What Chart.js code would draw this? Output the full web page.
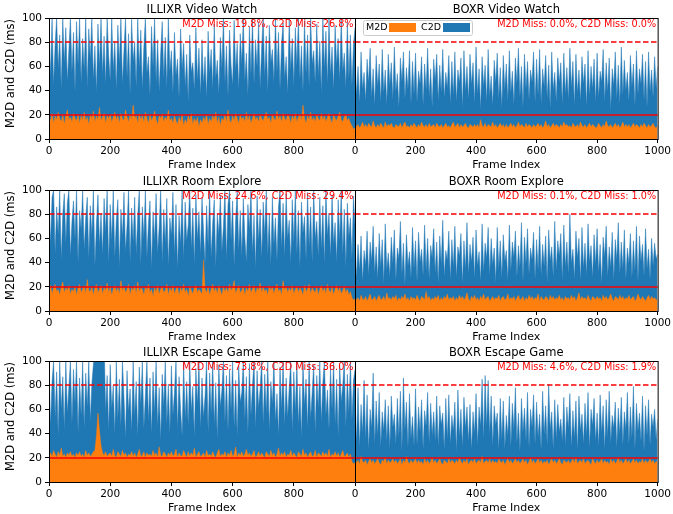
<!DOCTYPE html>
<html>
<head>
<meta charset="utf-8">
<script src="https://cdn.jsdelivr.net/npm/chart.js@4.4.0/dist/chart.umd.min.js"></script>
<style>
  body { margin: 0; background: #fff; width: 673px; height: 514px; overflow: hidden; position: relative; }
  canvas { position: absolute; }
</style>
</head>
<body>
<canvas id="c0" width="357" height="172" style="left:0;top:0"></canvas>
<canvas id="c1" width="338" height="172" style="left:335px;top:0"></canvas>
<canvas id="c2" width="357" height="172" style="left:0;top:172px"></canvas>
<canvas id="c3" width="338" height="172" style="left:335px;top:172px"></canvas>
<canvas id="c4" width="357" height="172" style="left:0;top:343px"></canvas>
<canvas id="c5" width="338" height="172" style="left:335px;top:343px"></canvas>
<script>
// frame index of each sample (one every 5 frames)
var frames = [];
for (var f = 0; f <= 1000; f += 5) frames.push(f);

var M2D_LIMIT = 20;
var C2D_LIMIT = 80;
var xTicks = [0, 200, 400, 600, 800, 1000];
var yTicks = [0, 20, 40, 60, 80, 100];

var illixrVideoC2D = [
 95,52,100,44,78,100,58,86,41,100,63,92,47,74,100,55,88,39,97,61,
 100,46,83,57,100,42,91,66,100,49,77,38,95,60,100,53,85,44,100,69,
 48,100,56,81,40,94,62,100,45,73,100,51,87,37,99,64,80,43,100,58,
 90,41,76,100,54,68,36,93,59,100,47,82,39,71,97,50,84,42,100,56,
 73,38,88,52,66,34,91,57,79,43,70,31,86,55,63,40,92,48,75,36,
 82,45,68,33,89,54,74,41,95,50,65,37,84,58,100,46,77,35,90,61,
 44,98,56,79,40,87,62,100,48,71,36,93,53,100,45,82,59,97,42,76,
 100,51,85,38,94,63,74,47,100,55,88,41,79,96,50,68,37,100,57,83,
 44,92,60,100,49,77,39,98,54,86,43,100,62,73,46,95,52,81,37,100,
 58,89,45,100,53,76,40,94,61,83,48,100,56,71,42,97,50,86,44,78,
 92];
var illixrVideoM2D = [
 18,15,21,13,19,16,22,17,14,20,12,19,24,16,18,14,21,17,15,20,
 13,19,16,22,15,18,12,20,17,23,14,19,16,26,15,18,21,13,19,17,
 20,14,18,22,16,19,13,21,17,15,24,18,14,20,16,28,17,19,13,21,
 16,19,14,22,17,13,20,15,18,23,16,12,19,17,21,14,18,16,24,15,
 17,13,19,15,12,18,14,20,11,16,13,19,15,21,12,17,14,18,10,16,
 13,18,15,20,12,17,14,19,16,22,13,18,11,17,15,20,14,24,16,13,
 19,15,21,17,13,20,16,18,14,22,15,19,13,17,21,16,18,14,20,17,
 15,19,22,16,18,13,20,17,15,23,16,19,14,21,17,15,20,18,13,19,
 16,21,14,18,20,15,28,17,13,19,16,22,15,18,14,20,17,15,21,16,
 19,14,18,21,16,13,20,17,15,19,22,16,14,18,20,15,17,13,11,8,
 9];

var boxrVideoC2D = [
 68,36,60,29,72,41,55,31,66,46,75,34,58,27,69,43,62,30,74,38,
 57,28,70,44,63,32,76,39,54,26,67,47,72,33,59,41,73,29,64,37,
 71,30,56,45,68,27,62,40,75,35,58,26,66,48,70,31,61,38,74,33,
 55,42,69,28,64,36,72,30,57,46,67,25,73,39,60,32,70,44,63,29,
 76,37,58,24,68,43,61,30,74,35,52,27,65,46,71,33,59,25,69,40,
 62,31,73,38,56,28,67,45,75,34,60,26,70,41,64,32,57,47,72,30,
 66,36,74,29,58,43,69,33,61,25,72,40,55,30,67,46,63,28,71,37,
 59,32,75,42,64,27,70,38,57,31,68,45,62,26,73,35,60,41,66,29,
 71,34,56,47,74,30,63,39,67,24,58,44,72,33,61,28,76,36,65,40,
 55,31,69,43,62,27,73,37,58,45,70,32,64,26,72,39,57,34,68,41,
 60];
var boxrVideoM2D = [
 13,10,12,9,11,14,10,12,9,13,11,10,15,11,9,12,10,13,11,9,
 14,10,12,11,13,10,9,12,11,10,13,9,12,14,10,11,9,12,10,13,
 11,9,12,10,14,11,10,12,9,13,10,11,12,9,13,11,10,12,9,11,
 13,10,11,9,12,14,10,11,13,9,12,10,11,13,10,9,12,11,10,12,
 10,12,9,16,11,10,13,9,12,11,10,14,10,12,9,11,13,10,12,9,
 12,9,11,13,10,12,9,11,14,10,12,11,9,13,10,12,11,9,12,10,
 11,13,10,12,9,11,15,10,12,9,11,13,10,12,11,9,12,10,14,11,
 12,10,11,9,13,11,10,12,9,14,11,10,12,9,11,13,10,12,11,9,
 10,13,11,9,12,10,15,11,10,12,9,11,13,10,12,9,11,14,10,12,
 10,12,9,11,13,10,12,11,9,12,10,13,11,9,12,10,11,13,10,9,
 11];

var illixrRoomC2D = [
 100,55,94,100,48,86,63,100,42,80,97,56,89,100,45,74,91,59,100,40,
 83,67,100,50,77,94,43,87,62,100,37,72,96,54,81,46,93,65,100,39,
 88,58,100,44,75,92,36,84,61,98,49,70,100,41,85,57,94,47,79,100,
 38,86,60,100,44,73,91,35,82,58,97,48,69,100,40,84,56,93,37,77,
 62,98,46,88,34,79,55,100,43,90,58,71,100,51,85,38,96,59,82,47,
 94,66,39,87,54,100,44,73,92,36,81,63,96,49,70,100,42,88,100,58,
 91,37,76,99,50,83,45,93,61,40,88,67,100,48,79,35,95,57,84,43,
 90,62,100,46,81,38,94,55,77,41,86,100,52,89,44,97,60,75,39,92,
 56,100,47,83,36,90,64,78,42,98,53,86,40,100,59,74,45,94,51,87,
 38,100,62,81,44,96,55,73,40,92,58,100,47,84,36,89,61,77,43,95,
 70];
var illixrRoomM2D = [
 17,21,14,19,22,16,18,13,20,24,15,19,17,21,14,18,16,20,13,19,
 22,15,18,21,14,26,17,16,20,13,19,22,15,18,21,14,19,17,23,15,
 20,13,18,21,16,19,14,25,17,20,15,18,22,13,19,17,21,14,24,16,
 19,18,13,20,17,22,15,18,12,19,16,21,14,18,20,15,17,22,13,19,
 16,21,14,18,20,13,19,16,22,15,18,12,20,17,14,19,21,15,18,16,
 14,42,18,15,20,13,18,22,16,19,14,21,17,13,20,16,19,15,22,17,
 19,25,14,18,21,15,17,20,13,19,16,22,15,18,21,14,19,17,23,15,
 20,16,18,13,21,17,20,14,19,22,16,18,13,25,17,20,15,19,16,21,
 14,18,20,15,19,17,13,21,16,18,22,14,19,17,15,20,13,18,21,16,
 19,14,22,17,15,20,13,18,21,16,19,14,17,20,15,18,13,16,11,9,
 10];

var boxrRoomC2D = [
 58,27,55,33,62,24,50,38,66,29,57,41,70,31,53,26,64,36,59,22,
 72,34,48,28,61,39,67,25,52,43,74,30,56,21,63,37,49,27,69,35,
 58,24,65,40,51,29,71,33,60,26,54,44,68,31,57,23,62,38,75,28,
 50,42,66,25,59,36,70,27,53,45,64,22,58,34,73,30,55,40,61,26,
 67,37,49,24,72,32,56,43,69,29,60,38,52,23,69,35,58,27,63,41,
 50,25,71,33,57,44,66,28,54,36,73,24,61,39,68,30,52,42,65,26,
 59,34,70,29,55,37,62,23,67,41,53,28,74,33,58,45,64,25,71,36,
 57,30,80,39,51,26,66,43,60,24,69,35,56,29,72,40,54,27,63,38,
 68,31,55,22,61,44,70,28,53,36,65,25,59,42,73,30,57,34,67,26,
 52,39,64,27,58,33,70,24,62,41,55,29,68,35,51,26,60,37,56,43,
 47];
var boxrRoomM2D = [
 12,9,11,8,13,10,9,12,8,11,14,9,10,12,8,11,13,9,10,12,
 8,15,10,11,9,12,10,13,8,11,9,12,10,14,9,11,8,12,10,11,
 9,13,10,8,12,11,9,16,10,12,8,11,9,12,10,13,8,11,9,12,
 10,14,9,11,10,12,8,11,9,13,10,12,9,11,15,10,8,12,10,13,
 9,11,8,12,10,14,9,11,12,8,10,12,9,11,10,13,8,11,12,9,
 10,14,9,11,10,12,8,11,13,9,10,12,8,11,9,13,10,12,9,11,
 10,14,8,12,10,9,12,11,8,13,10,12,9,11,10,13,9,11,8,12,
 10,11,9,13,10,12,8,11,15,9,12,10,11,9,13,10,8,12,11,9,
 12,10,11,8,13,10,12,9,11,14,10,8,12,11,9,13,10,12,9,11,
 10,13,9,11,12,8,10,14,11,9,12,10,8,11,13,9,12,10,11,9,
 10];

var illixrEscapeC2D = [
 100,46,83,100,53,91,38,100,60,87,43,100,57,79,100,48,93,65,100,41,
 86,55,100,44,90,62,100,50,81,97,130,140,135,140,130,125,120,58,88,42,
 97,61,80,39,100,52,85,46,100,70,36,92,58,77,41,100,54,83,37,95,
 63,100,44,72,100,50,86,39,91,57,100,45,78,34,89,62,100,48,81,40,
 96,55,74,100,43,87,60,38,99,52,83,46,100,58,79,37,94,64,100,44,
 86,53,71,100,41,90,56,100,47,82,35,97,62,76,100,49,88,42,93,59,
 100,45,84,38,96,66,74,100,51,87,40,98,55,80,100,44,92,61,77,100,
 48,89,57,100,42,83,64,100,50,73,38,95,60,100,46,86,53,78,100,41,
 91,58,100,47,79,36,99,63,85,44,100,52,74,97,40,88,61,100,49,82,
 100,55,76,43,94,60,100,48,85,38,97,66,80,100,45,89,57,100,51,84,
 93];
var illixrEscapeM2D = [
 22,24,21,26,23,20,25,22,28,21,23,20,24,22,25,21,23,20,24,22,
 25,21,23,20,26,22,24,21,23,25,26,38,57,42,30,24,22,25,21,23,
 24,21,27,22,20,25,23,21,26,22,24,20,23,22,25,21,24,20,23,27,
 21,22,25,20,24,22,23,21,26,22,24,20,29,22,21,25,23,20,24,22,
 25,21,23,27,20,24,22,21,26,23,20,25,21,24,22,28,20,23,25,21,
 22,24,20,26,22,23,21,25,22,20,24,27,21,23,22,25,20,24,22,26,
 21,23,29,20,24,22,25,21,23,27,22,24,21,23,26,20,22,25,21,24,
 22,20,25,23,21,26,22,24,20,23,28,21,24,22,25,20,23,22,26,21,
 24,22,20,25,23,21,27,22,24,20,23,25,21,22,26,20,24,23,21,25,
 22,24,21,27,20,23,22,25,21,24,20,23,26,21,22,24,20,23,17,15,
 16];

var boxrEscapeC2D = [
 70,32,78,28,64,40,84,35,72,26,60,44,90,30,67,38,74,29,58,42,
 68,33,63,27,71,45,56,31,69,37,75,25,86,43,66,28,73,36,54,30,
 77,30,62,41,68,27,59,46,74,32,65,38,58,34,71,29,63,47,57,26,
 69,35,72,31,55,42,66,24,76,37,60,28,70,44,62,33,64,26,58,40,
 73,30,62,46,85,34,88,45,84,39,71,29,63,47,57,26,69,35,67,27,
 55,38,71,29,65,43,78,32,57,25,69,41,61,34,74,28,60,45,72,31,
 66,37,56,26,75,39,63,30,81,43,58,27,68,35,64,41,52,33,70,29,
 62,44,73,28,59,36,67,25,71,42,56,31,65,38,74,27,60,46,69,33,
 57,29,72,40,63,26,68,37,75,32,55,44,66,28,61,39,70,30,58,43,
 74,31,62,36,79,27,65,42,57,33,71,25,63,38,68,30,56,45,60,34,
 52];
var boxrEscapeM2D = [
 19,16,18,15,21,17,16,18,14,17,19,16,18,15,17,19,16,14,18,17,
 20,15,18,16,17,19,16,18,15,17,19,14,18,16,21,17,15,18,16,17,
 19,15,18,16,17,14,19,16,18,15,17,20,16,18,15,17,19,16,14,18,
 17,15,19,16,18,17,15,18,16,20,17,15,18,16,19,14,17,18,16,19,
 15,17,18,16,21,15,17,18,16,19,15,18,16,17,15,19,17,16,18,14,
 17,19,16,18,15,17,19,16,18,15,17,19,16,18,14,17,20,16,18,15,
 17,19,16,18,15,17,16,18,14,17,19,16,18,15,17,19,16,14,18,17,
 16,18,15,17,19,16,20,15,17,18,16,19,15,17,18,16,14,19,17,15,
 18,16,17,19,15,18,16,17,14,19,16,18,15,17,20,16,18,15,17,19,
 16,18,15,17,19,16,18,15,17,16,19,15,18,16,17,19,16,18,15,17,
 16];

Chart.defaults.font.family = 'DejaVu Sans';
Chart.defaults.color = '#000';

var ORANGE = '#ff7f0e';
var BLUE = '#1f77b4';

function pts(vals) {
    return vals.map(function(v, i) { return {x: frames[i], y: v}; });
}

var decor = {
    id: 'decor',
    afterDatasetsDraw: function(chart, args, o) {
        var ctx = chart.ctx, a = chart.chartArea, y = chart.scales.y;
        ctx.save();
        ctx.strokeStyle = '#ff0000';
        ctx.lineWidth = 1.6;
        var py = Math.round(y.getPixelForValue(M2D_LIMIT));
        ctx.beginPath(); ctx.moveTo(a.left, py); ctx.lineTo(a.right, py); ctx.stroke();
        ctx.setLineDash([5.5, 2.5]);
        py = Math.round(y.getPixelForValue(C2D_LIMIT));
        ctx.beginPath(); ctx.moveTo(a.left, py); ctx.lineTo(a.right, py); ctx.stroke();
        ctx.setLineDash([]);
        // spines
        ctx.strokeStyle = '#000';
        ctx.lineWidth = 1;
        ctx.strokeRect(a.left + 0.5, a.top + 0.5, a.right - a.left, a.bottom - a.top);
        ctx.restore();
    },
    afterDraw: function(chart, args, o) {
        var ctx = chart.ctx, a = chart.chartArea;
        var cx = (a.left + a.right) / 2;
        ctx.save();
        ctx.fillStyle = '#000';
        ctx.textAlign = 'center';
        ctx.textBaseline = 'middle';
        ctx.font = '11.5px "DejaVu Sans"';
        ctx.fillText(o.title, cx, a.top - 8);
        ctx.font = '11px "DejaVu Sans"';
        ctx.fillText('Frame Index', cx, a.bottom + 26);
        ctx.fillStyle = '#ff0000';
        ctx.textAlign = 'right';
        ctx.font = '9.7px "DejaVu Sans"';
        ctx.fillText(o.note, a.right - 1.5, a.top + 6.5);
        if (o.left) {
            ctx.save();
            ctx.fillStyle = '#000';
            ctx.textAlign = 'center';
            ctx.font = '11.5px "DejaVu Sans"';
            ctx.translate(11, (a.top + a.bottom) / 2 - 5);
            ctx.rotate(-Math.PI / 2);
            ctx.fillText('M2D and C2D (ms)', 0, 0);
            ctx.restore();
        }
        if (o.legend) {
            var lx = a.left + 8, ly = a.top + 2;
            ctx.fillStyle = 'rgba(255,255,255,0.8)';
            ctx.strokeStyle = '#cccccc';
            ctx.beginPath();
            ctx.roundRect(lx + 0.5, ly + 0.5, 109, 15, 2);
            ctx.fill();
            ctx.stroke();
            ctx.font = '9.5px "DejaVu Sans"';
            ctx.fillStyle = '#000';
            ctx.textAlign = 'left';
            ctx.fillText('M2D', lx + 3, ly + 8);
            ctx.fillStyle = ORANGE;
            ctx.fillRect(lx + 26, ly + 3, 27, 9);
            ctx.fillStyle = '#000';
            ctx.fillText('C2D', lx + 58, ly + 8);
            ctx.fillStyle = BLUE;
            ctx.fillRect(lx + 80, ly + 3, 27, 9);
        }
        ctx.restore();
    }
};

var panels = [
    {id: 'c0', title: 'ILLIXR Video Watch', note: 'M2D Miss: 19.8%, C2D Miss: 26.8%', m2d: illixrVideoM2D, c2d: illixrVideoC2D, left: true},
    {id: 'c1', title: 'BOXR Video Watch', note: 'M2D Miss: 0.0%, C2D Miss: 0.0%', m2d: boxrVideoM2D, c2d: boxrVideoC2D, left: false, legend: true},
    {id: 'c2', title: 'ILLIXR Room Explore', note: 'M2D Miss: 24.6%, C2D Miss: 29.4%', m2d: illixrRoomM2D, c2d: illixrRoomC2D, left: true},
    {id: 'c3', title: 'BOXR Room Explore', note: 'M2D Miss: 0.1%, C2D Miss: 1.0%', m2d: boxrRoomM2D, c2d: boxrRoomC2D, left: false},
    {id: 'c4', title: 'ILLIXR Escape Game', note: 'M2D Miss: 73.8%, C2D Miss: 36.0%', m2d: illixrEscapeM2D, c2d: illixrEscapeC2D, left: true},
    {id: 'c5', title: 'BOXR Escape Game', note: 'M2D Miss: 4.6%, C2D Miss: 1.9%', m2d: boxrEscapeM2D, c2d: boxrEscapeC2D, left: false}
];

panels.forEach(function(p) {
    new Chart(document.getElementById(p.id), {
        type: 'line',
        data: {
            datasets: [
                {label: 'M2D', data: pts(p.m2d), borderColor: ORANGE, backgroundColor: ORANGE, borderWidth: 0.5, fill: 'origin', pointRadius: 0, tension: 0},
                {label: 'C2D', data: pts(p.c2d), borderColor: BLUE, backgroundColor: BLUE, borderWidth: 0.5, fill: 'origin', pointRadius: 0, tension: 0}
            ]
        },
        options: {
            responsive: false,
            animation: false,
            events: [],
            layout: {
                autoPadding: false,
                padding: p.left ? {left: 0, right: 2, top: 18, bottom: 0} : {left: 20, right: 12, top: 18, bottom: 0}
            },
            plugins: {
                legend: {display: false},
                tooltip: {enabled: false},
                decor: {title: p.title, note: p.note, left: p.left, legend: p.legend}
            },
            scales: {
                x: {
                    type: 'linear', min: 0, max: 1000,
                    afterBuildTicks: function(s) { s.ticks = xTicks.map(function(v) { return {value: v}; }); },
                    afterFit: function(s) { s.height = 33; },
                    grid: {drawOnChartArea: false, tickLength: 4, color: '#000'},
                    border: {display: false},
                    ticks: {
                        maxRotation: 0, padding: 2, font: {size: 10.5},
                        callback: function(v) { return (p.left && v === 1000) ? '' : v; }
                    }
                },
                y: {
                    display: p.left,
                    min: 0, max: 100,
                    afterBuildTicks: function(s) { s.ticks = yTicks.map(function(v) { return {value: v}; }); },
                    afterFit: function(s) { s.width = p.left ? 49 : 0; },
                    grid: {drawOnChartArea: false, tickLength: 4, color: '#000'},
                    border: {display: false},
                    ticks: {padding: 3, font: {size: 10.5}}
                }
            }
        },
        plugins: [decor]
    });
});
</script>
</body>
</html>
